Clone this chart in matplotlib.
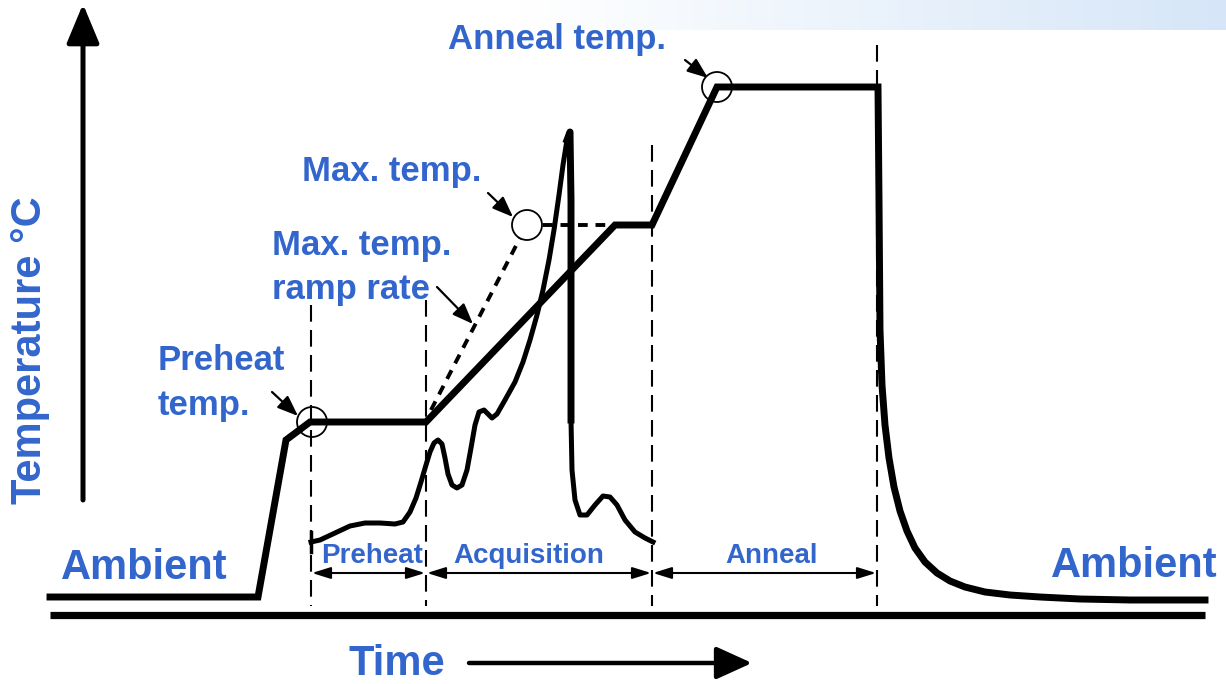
import numpy as np
import matplotlib.pyplot as plt
from matplotlib.patches import Circle
from matplotlib.colors import LinearSegmentedColormap

plt.rcParams['font.family'] = ['Liberation Sans', 'DejaVu Sans']

BLUE = '#3366cc'

# set-point profile (time, temperature) in drawing units
profile_t = [50, 258, 286, 310, 426, 615, 652, 717, 878, 879, 880, 882, 885, 889,
             894, 900, 907, 915, 925, 937, 950, 965, 985, 1010, 1040, 1080, 1130, 1205]
profile_T = [597, 597, 440, 422, 422, 225, 225, 87, 87, 200, 330, 385, 425, 458,
             487, 511, 531, 548, 562, 573, 581, 587, 592, 595, 597, 599, 600, 600]

# measured signal during preheat / acquisition
trace_t = [311, 320, 335, 350, 365, 380, 395, 403, 410, 416, 421, 426, 430, 434,
           438, 442, 445, 448, 452, 457, 462, 467, 471, 475, 479, 484, 488, 492,
           497, 505, 515, 523, 530, 537, 543, 549, 554, 559, 563, 567, 570, 571,
           571, 571, 572, 575, 580, 587, 595, 603, 610, 617, 625, 635, 645, 653]
trace_T = [542, 540, 533, 526, 523, 523, 524, 522, 512, 498, 482, 465, 452, 443,
           440, 444, 458, 474, 485, 488, 485, 470, 448, 425, 412, 410, 414, 418,
           414, 400, 382, 362, 340, 315, 290, 260, 230, 195, 165, 140, 132, 200,
           300, 420, 470, 500, 515, 515, 505, 496, 497, 505, 520, 532, 538, 542]

# phase boundaries
bounds = [311, 426, 652, 877]
bound_top = [305, 300, 145, 45]
phases = ['Preheat', 'Acquisition', 'Anneal']
phase_label_x = [372, 529, 772]

# steepest allowed ramp and max temperature hold
ramp_t = [431, 520]
ramp_T = [410, 238]
hold_t = [543, 615]
hold_T = [225, 225]

fig = plt.figure(figsize=(12.26, 6.84), dpi=100)
ax = fig.add_axes([0, 0, 1, 1])
ax.set_xlim(0, 1226)
ax.set_ylim(684, 0)
ax.axis('off')

# light blue band across the top
grad = np.linspace(0, 1, 256).reshape(1, -1)
band = LinearSegmentedColormap.from_list('band', ['#ffffff', '#d6e6f8'])
ax.imshow(grad, extent=[520, 1226, 30, 0], cmap=band, aspect='auto', zorder=0)

# axes arrows
ax.plot([50, 1205], [615, 615], color='black', lw=5.2, solid_capstyle='butt')
ax.annotate('', xy=(83, 4), xytext=(83, 500),
            arrowprops=dict(arrowstyle='-|>,head_length=1.2,head_width=0.5', lw=3.6,
                            color='black', mutation_scale=20, shrinkA=0, shrinkB=0))
ax.annotate('', xy=(752, 663), xytext=(469, 663),
            arrowprops=dict(arrowstyle='-|>,head_length=1.1,head_width=0.5', lw=3.2,
                            color='black', mutation_scale=20, shrinkA=0, shrinkB=0))

# phase boundaries and spans
for x, top in zip(bounds, bound_top):
    ax.plot([x, x], [top, 606], color='black', lw=1.5, ls=(0, (8, 4)))
ax.plot([311, 311], [532, 552], color='black', lw=2.5)
for i, name in enumerate(phases):
    ax.annotate('', xy=(bounds[i + 1] - 1, 573), xytext=(bounds[i] + 1, 573),
                arrowprops=dict(arrowstyle='<|-|>,head_length=0.8,head_width=0.25', lw=1.5,
                                color='black', mutation_scale=14, shrinkA=0, shrinkB=0))
    ax.text(phase_label_x[i], 556, name, color=BLUE, fontsize=20, fontweight='bold',
            ha='center', va='center')

# ramp and hold guides
ax.plot(ramp_t, ramp_T, color='black', lw=2.8, ls=(0, (2.5, 2)))
ax.plot(hold_t, hold_T, color='black', lw=2.8, ls=(0, (2.5, 2)))

ax.plot(trace_t, trace_T, color='black', lw=3.6, solid_joinstyle='round')
ax.plot(trace_t[-17:-12], trace_T[-17:-12], color='black', lw=5.0)
ax.plot(profile_t, profile_T, color='black', lw=5.0, solid_joinstyle='miter')

# marked points
for cx, cy in [(312, 422), (527, 225), (717, 87)]:
    ax.add_patch(Circle((cx, cy), 15, fill=False, lw=1.3, color='black'))

pointers = [((272, 392), (298, 416)), ((488, 193), (513, 217)),
            ((437, 287), (473, 324)), ((685, 60), (708, 78))]
for start, end in pointers:
    ax.annotate('', xy=end, xytext=start,
                arrowprops=dict(arrowstyle='-|>,head_length=0.9,head_width=0.35', lw=1.6,
                                color='black', mutation_scale=14, shrinkA=0, shrinkB=0))

# labels
big = dict(color=BLUE, fontweight='bold')
ax.text(30, 350, 'Temperature °C', rotation=90, fontsize=30, ha='center', va='center', **big)
ax.text(61, 568, 'Ambient', fontsize=30, ha='left', va='center', **big)
ax.text(1218, 566, 'Ambient', fontsize=30, ha='right', va='center', **big)
ax.text(397, 664, 'Time', fontsize=30, ha='center', va='center', **big)
ax.text(448, 40, 'Anneal temp.', fontsize=25, ha='left', va='center', **big)
ax.text(302, 172, 'Max. temp.', fontsize=25, ha='left', va='center', **big)
ax.text(272, 246, 'Max. temp.', fontsize=25, ha='left', va='center', **big)
ax.text(272, 290, 'ramp rate', fontsize=25, ha='left', va='center', **big)
ax.text(158, 360, 'Preheat', fontsize=25, ha='left', va='center', **big)
ax.text(158, 405, 'temp.', fontsize=25, ha='left', va='center', **big)

fig.savefig('out.png', dpi=100)
